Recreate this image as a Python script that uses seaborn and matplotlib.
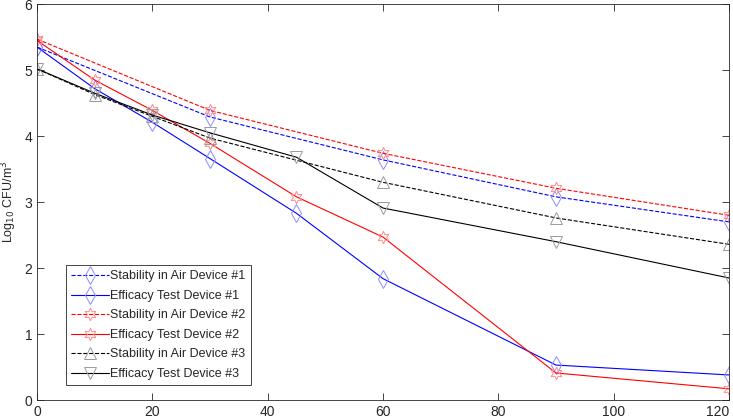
import numpy as np
import pandas as pd
import matplotlib
matplotlib.use("Agg")
import matplotlib.pyplot as plt
import seaborn as sns

# time points (min)
t_stab = [0, 30, 60, 90, 120]
t_stab3 = [0, 10, 20, 30, 60, 90, 120]
t_eff = [0, 10, 20, 30, 45, 60, 90, 120]

stab1 = [5.35, 4.29, 3.64, 3.08, 2.70]
eff1 = [5.35, 4.72, 4.21, 3.66, 2.83, 1.84, 0.53, 0.38]
stab2 = [5.47, 4.39, 3.74, 3.21, 2.80]
eff2 = [5.45, 4.85, 4.39, 3.89, 3.08, 2.47, 0.41, 0.17]
stab3 = [5.02, 4.63, 4.30, 3.97, 3.30, 2.76, 2.36]
eff3 = [5.02, 4.65, 4.32, 4.05, 3.68, 2.91, 2.40, 1.85]

labels = ["Stability in Air Device #1", "Efficacy Test Device #1",
          "Stability in Air Device #2", "Efficacy Test Device #2",
          "Stability in Air Device #3", "Efficacy Test Device #3"]

sns.set_style("ticks")
plt.rcParams['font.family'] = ['Liberation Sans', 'DejaVu Sans']
plt.rcParams['font.size'] = 10

fig = plt.figure(figsize=(7.33, 4.18), dpi=100)
ax = fig.add_axes([0.0505, 0.043, 0.944, 0.947])

hexagram = (6, 1, 0)
series = [
    (t_stab, stab1, "#0000ff", "--", "d", "#8c8cff", 9),
    (t_eff, eff1, "#0000ff", "-", "d", "#8c8cff", 9),
    (t_stab, stab2, "#ff0000", "--", hexagram, "#ff8c8c", 9),
    (t_eff, eff2, "#ff0000", "-", hexagram, "#ff8c8c", 9),
    (t_stab3, stab3, "#000000", "--", "^", "#9a9a9a", 8),
    (t_eff, eff3, "#000000", "-", "v", "#9a9a9a", 8),
]
for (x, y, c, ls, mk, mc, ms), lab in zip(series, labels):
    sns.lineplot(x=x, y=y, ax=ax, color=c, linestyle=ls, linewidth=0.8,
                 marker=mk, markersize=ms, markerfacecolor="none",
                 markeredgecolor=mc, markeredgewidth=0.7, label=lab)

ax.set_xlim(0, 120)
ax.set_ylim(0, 6)
ax.set_xticks(np.arange(0, 121, 20))
ax.set_yticks(np.arange(0, 7, 1))
ax.set_ylabel("Log$_{10}$ CFU/m$^3$", labelpad=4, fontsize=9)
ax.set_xlabel("")
ax.tick_params(direction="in", length=5, top=True, right=True,
               colors="#262626", labelsize=10, width=0.6)
ax.get_xticklabels()[-1].set_horizontalalignment("right")
for s in ax.spines.values():
    s.set_visible(True)
    s.set_color("#262626")
    s.set_linewidth(0.6)

leg = ax.legend(loc="lower left", bbox_to_anchor=(0.042, 0.038),
                borderaxespad=0, frameon=True, fancybox=False, framealpha=1,
                edgecolor="#262626", fontsize=9, handlelength=3.0,
                labelspacing=0.6, borderpad=0.4, handletextpad=0.15)
leg.get_frame().set_linewidth(0.6)

fig.savefig("out.png", dpi=100)
